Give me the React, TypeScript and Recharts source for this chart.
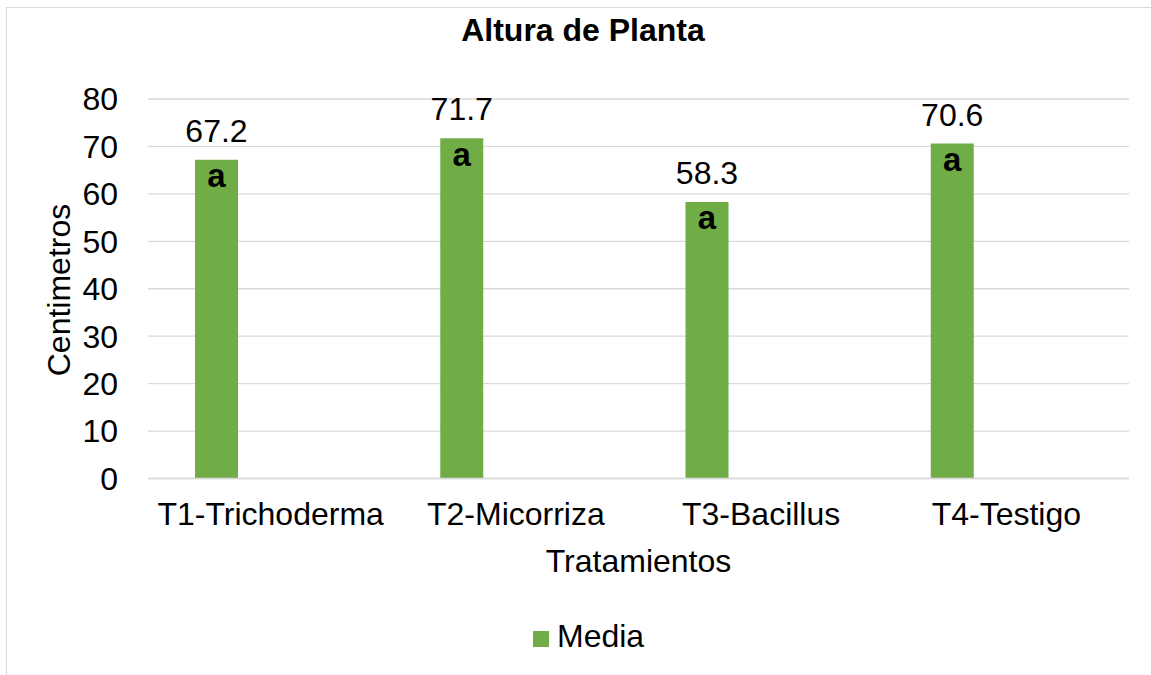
import React from "react"
import { BarChart, Bar, XAxis, YAxis, CartesianGrid, Legend, LabelList, Label } from "recharts"

const tratamientos = ["T1-Trichoderma", "T2-Micorriza", "T3-Bacillus", "T4-Testigo"]
const medias = [67.2, 71.7, 58.3, 70.6]
const letras = ["a", "a", "a", "a"]
const yTicks = [0, 10, 20, 30, 40, 50, 60, 70, 80]

const data = tratamientos.map((t, i) => ({ tratamiento: t, media: medias[i], letra: letras[i] }))

const FONT = "'Liberation Sans', Arial, sans-serif"
const VERDE = "#70AD47"
const GRIS = "#D9D9D9"
const FS = 32

export default function App() {
  return (
    <div
      style={{
        position: "absolute",
        left: 0,
        top: 0,
        width: 1151,
        height: 675,
        overflow: "hidden",
        background: "#fff",
        fontFamily: FONT,
      }}
    >
      <div
        style={{
          position: "absolute",
          left: 6,
          top: 7,
          width: 1200,
          height: 720,
          border: `1.5px solid ${GRIS}`,
        }}
      />
      <div
        style={{
          position: "absolute",
          left: 383,
          top: 12,
          width: 400,
          textAlign: "center",
          fontSize: FS,
          fontWeight: "bold",
          color: "#000",
        }}
      >
        Altura de Planta
      </div>
      <div style={{ position: "absolute", left: 0, top: 0 }}>
        <BarChart
          width={1151}
          height={675}
          data={data}
          margin={{ top: 99, right: 22, left: 88, bottom: 76.5 }}
          barSize={43}
          barGap={65}
        >
          <CartesianGrid vertical={false} stroke={GRIS} strokeWidth={1.3} />
          <XAxis
            dataKey="tratamiento"
            height={120}
            tickLine={false}
            tickSize={0}
            tickMargin={24}
            axisLine={{ stroke: GRIS, strokeWidth: 1.3 }}
            tick={{ fill: "#000", fontSize: FS }}
          >
            <Label
              value="Tratamientos"
              position="insideBottom"
              offset={26.5}
              fill="#000"
              fontSize={FS}
            />
          </XAxis>
          <YAxis
            width={60}
            domain={[0, 80]}
            ticks={yTicks}
            axisLine={false}
            tickLine={false}
            tickSize={0}
            tickMargin={30}
            tick={{ fill: "#000", fontSize: FS }}
          >
            <Label
              content={() => (
                <text
                  x={59}
                  y={290}
                  transform="rotate(-90 59 290)"
                  textAnchor="middle"
                  dominantBaseline="central"
                  fill="#000"
                  fontSize={FS}
                  fontFamily={FONT}
                >
                  Centimetros
                </text>
              )}
            />
          </YAxis>
          <Legend
            layout="vertical"
            verticalAlign="middle"
            align="center"
            iconType="square"
            iconSize={16}
            wrapperStyle={{ left: 533, top: 618, width: "auto", fontSize: FS }}
            formatter={(v) => <span style={{ color: "#000", fontSize: FS, marginLeft: 4 }}>{v}</span>}
          />
          <Bar dataKey="media" name="Media" fill={VERDE} isAnimationActive={false}>
            <LabelList dataKey="media" position="top" offset={18} fill="#000" fontSize={FS} />
            <LabelList
              dataKey="letra"
              position="insideTop"
              offset={4}
              fill="#000"
              fontSize={33}
              fontWeight="bold"
            />
          </Bar>
          <Bar dataKey="serie2" legendType="none" fill={VERDE} isAnimationActive={false} />
        </BarChart>
      </div>
    </div>
  )
}
